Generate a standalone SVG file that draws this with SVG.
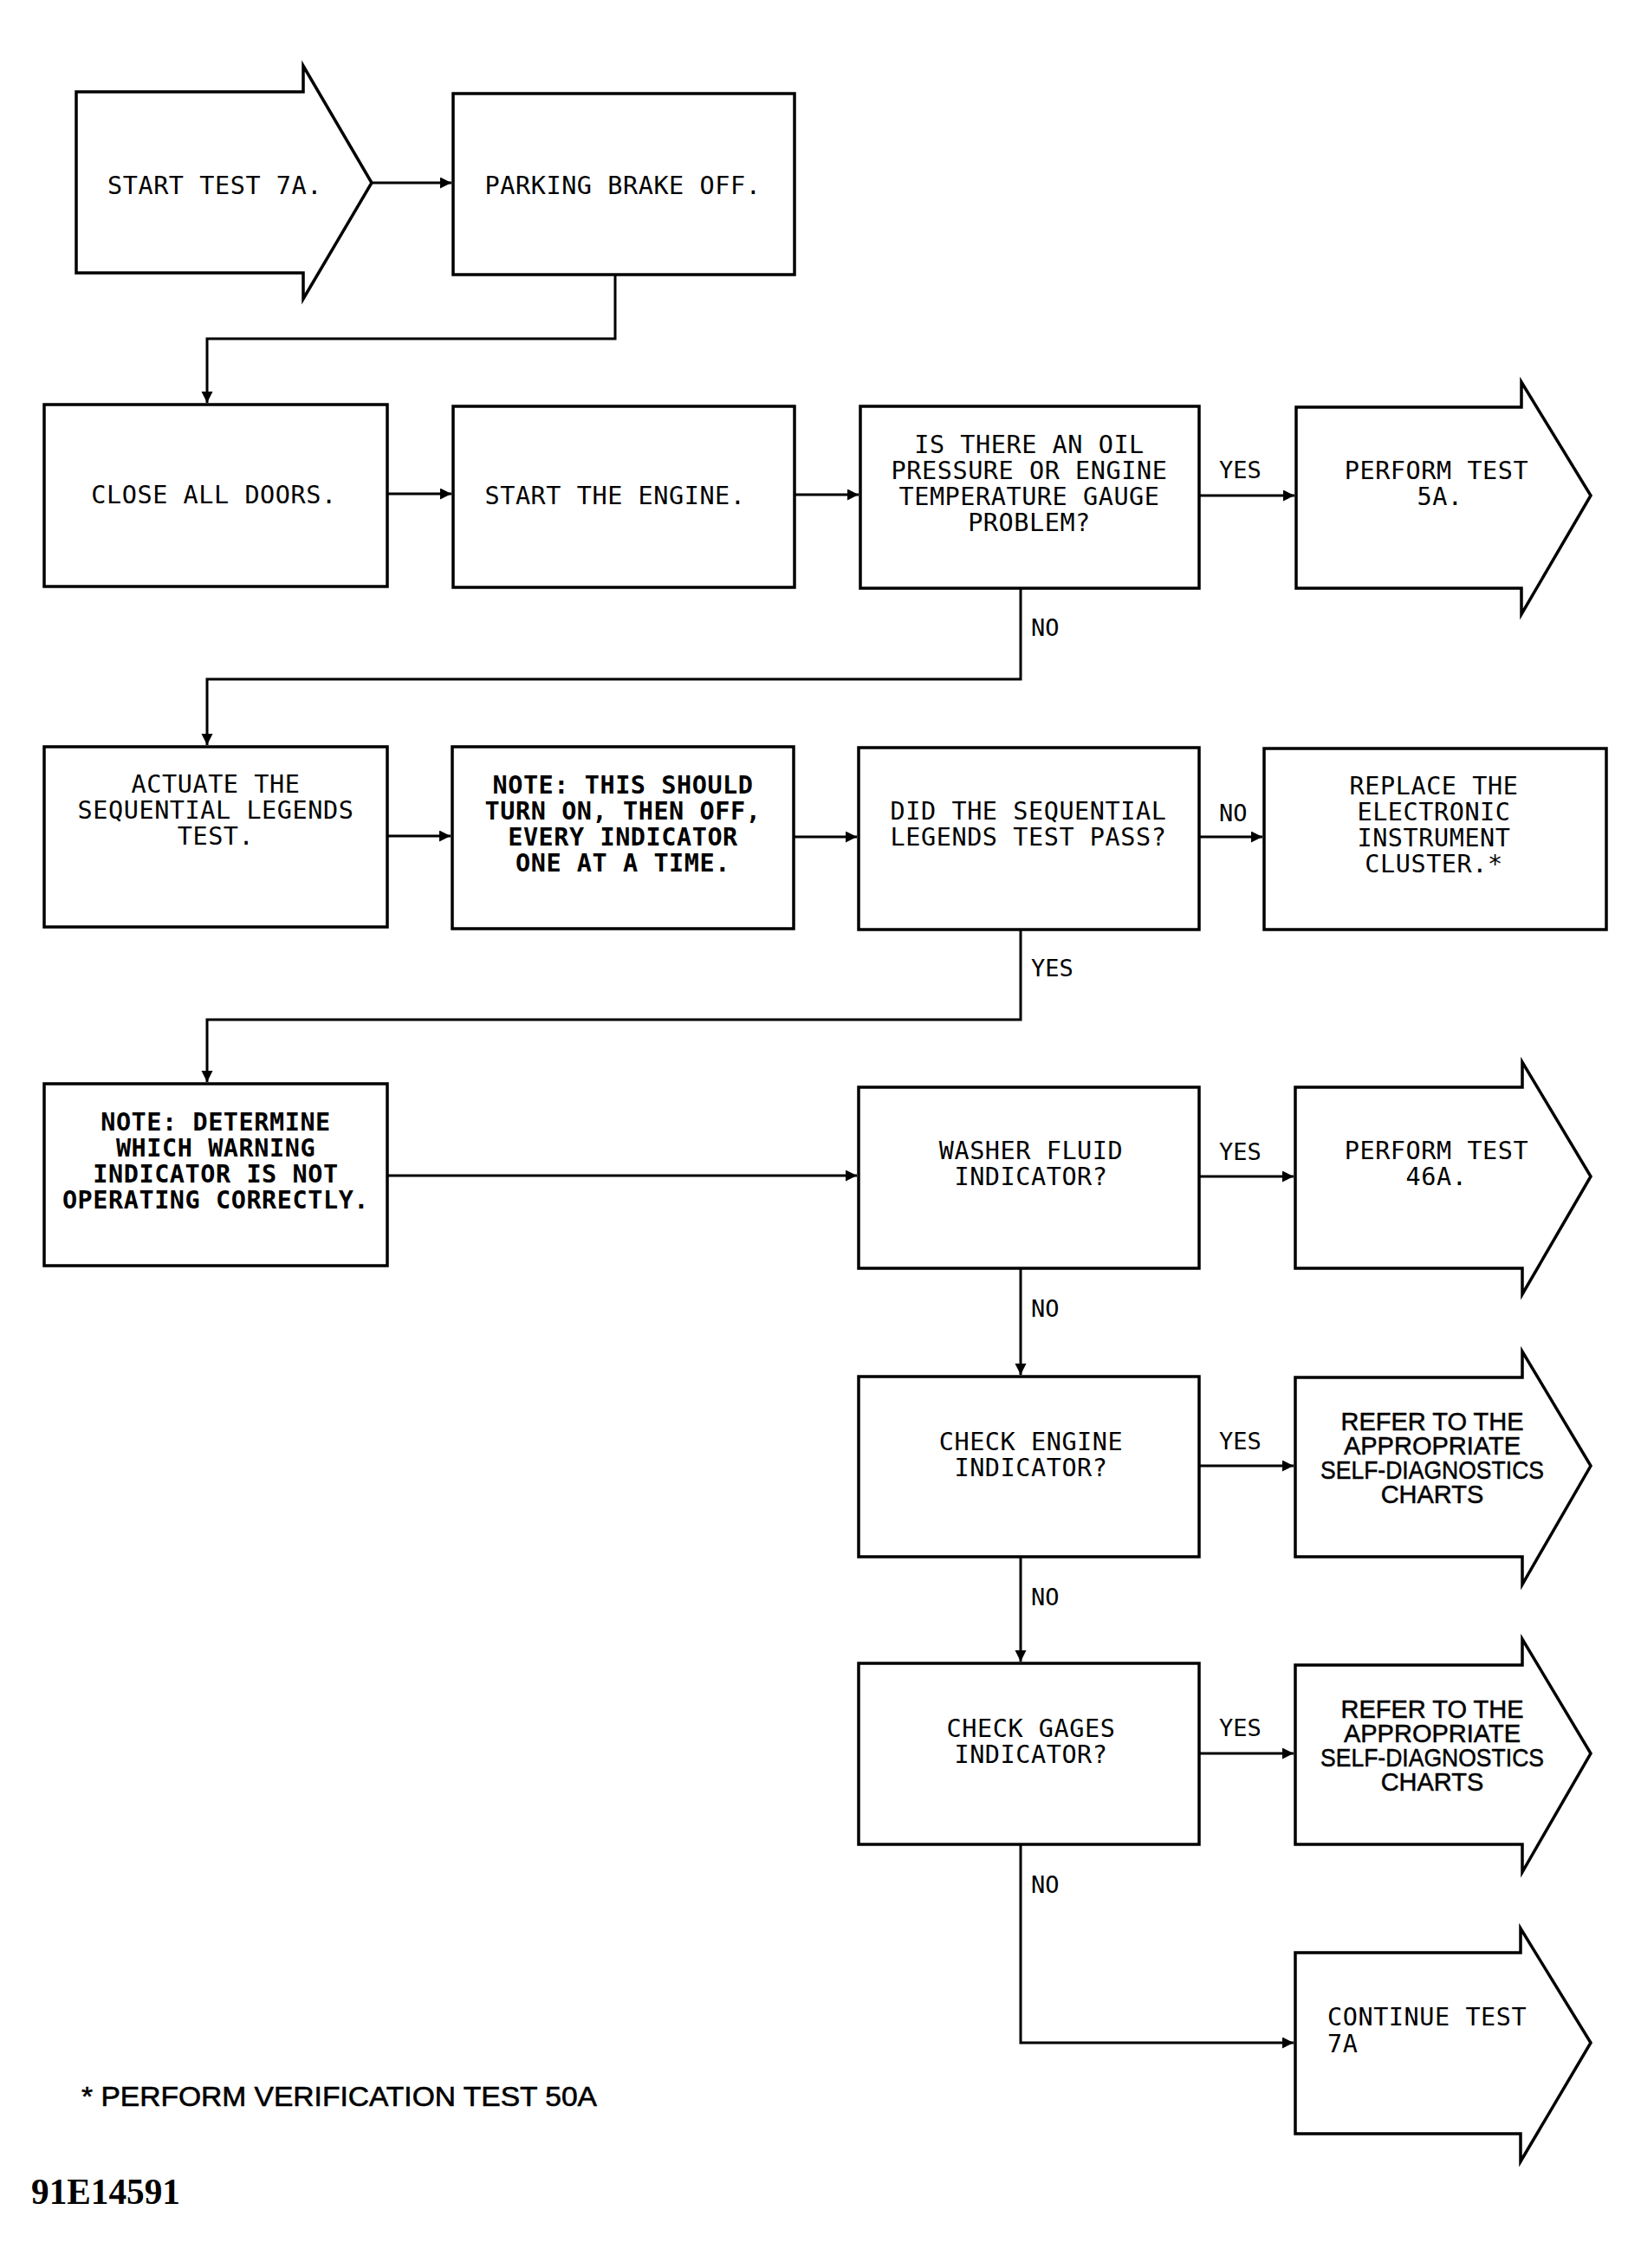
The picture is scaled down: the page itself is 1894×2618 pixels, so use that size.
<svg xmlns="http://www.w3.org/2000/svg" width="1894" height="2618" viewBox="0 0 1894 2618">
<style>
  .bx { fill: #fff; stroke: #000; stroke-width: 3.5; stroke-linejoin: miter; }
  .cn { fill: none; stroke: #000; stroke-width: 3; }
  .t { font-family: "DejaVu Sans Mono", "Liberation Mono", monospace; font-size: 28.5px; letter-spacing: 0.55px; fill: #000; }
  .m { text-anchor: middle; }
  .b { font-weight: bold; }
  .h { font-family: "Liberation Sans", Arial, sans-serif; font-size: 29px; fill: #000; stroke: #000; stroke-width: 0.5; text-anchor: middle; }
  .lbl { font-family: "DejaVu Sans Mono", "Liberation Mono", monospace; font-size: 27px; fill: #000; }
</style>
<defs>
  <marker id="ah" markerUnits="userSpaceOnUse" markerWidth="14" markerHeight="14" refX="13" refY="6.5" orient="auto">
    <path d="M0,0 L13,6.5 L0,13 Z" fill="#000"/>
  </marker>
</defs>
<rect x="0" y="0" width="1894" height="2618" fill="#fff"/>

<g id="connectors">
  <path class="cn" d="M429,211 H521" marker-end="url(#ah)"/>
  <path class="cn" d="M710,317 V391 H239 V465" marker-end="url(#ah)"/>
  <path class="cn" d="M447,570 H521" marker-end="url(#ah)"/>
  <path class="cn" d="M917,571 H991" marker-end="url(#ah)"/>
  <path class="cn" d="M1384,572 H1494" marker-end="url(#ah)"/>
  <path class="cn" d="M1178,679 V784 H239 V860" marker-end="url(#ah)"/>
  <path class="cn" d="M447,965 H520" marker-end="url(#ah)"/>
  <path class="cn" d="M916,966 H989" marker-end="url(#ah)"/>
  <path class="cn" d="M1384,966 H1457" marker-end="url(#ah)"/>
  <path class="cn" d="M1178,1073 V1177 H239 V1249" marker-end="url(#ah)"/>
  <path class="cn" d="M447,1357 H989" marker-end="url(#ah)"/>
  <path class="cn" d="M1384,1358 H1493" marker-end="url(#ah)"/>
  <path class="cn" d="M1178,1464 V1587" marker-end="url(#ah)"/>
  <path class="cn" d="M1384,1692 H1493" marker-end="url(#ah)"/>
  <path class="cn" d="M1178,1797 V1918" marker-end="url(#ah)"/>
  <path class="cn" d="M1384,2024 H1493" marker-end="url(#ah)"/>
  <path class="cn" d="M1178,2129 V2358 H1493" marker-end="url(#ah)"/>
  <text class="lbl" x="1407" y="552">YES</text>
  <text class="lbl" x="1190" y="734">NO</text>
  <text class="lbl" x="1407" y="948">NO</text>
  <text class="lbl" x="1190" y="1127">YES</text>
  <text class="lbl" x="1407" y="1339">YES</text>
  <text class="lbl" x="1190" y="1520">NO</text>
  <text class="lbl" x="1407" y="1673">YES</text>
  <text class="lbl" x="1190" y="1853">NO</text>
  <text class="lbl" x="1407" y="2004">YES</text>
  <text class="lbl" x="1190" y="2185">NO</text>
</g>

<g id="start">
  <path class="bx" d="M88,106 H350 V76 L429,211 L350,345 V315 H88 Z"/>
  <text class="t" x="124" y="224">START TEST 7A.</text>
</g>
<g id="parking">
  <rect class="bx" x="523" y="108" width="394" height="209"/>
  <text class="t m" x="719" y="224">PARKING BRAKE OFF.</text>
</g>
<g id="close-doors">
  <rect class="bx" x="51" y="467" width="396" height="210"/>
  <text class="t m" x="247" y="581">CLOSE ALL DOORS.</text>
</g>
<g id="start-engine">
  <rect class="bx" x="523" y="469" width="394" height="209"/>
  <text class="t m" x="710" y="582">START THE ENGINE.</text>
</g>
<g id="oil-question">
  <rect class="bx" x="993" y="469" width="391" height="210"/>
  <text class="t m"><tspan x="1188" y="523">IS THERE AN OIL</tspan><tspan x="1188" y="553">PRESSURE OR ENGINE</tspan><tspan x="1188" y="583">TEMPERATURE GAUGE</tspan><tspan x="1188" y="613">PROBLEM?</tspan></text>
</g>
<g id="perform-5a">
  <path class="bx" d="M1496,470 H1756 V441 L1836,572 L1756,709 V679 H1496 Z"/>
  <text class="t m"><tspan x="1658" y="553">PERFORM TEST</tspan><tspan x="1662" y="583">5A.</tspan></text>
</g>
<g id="actuate">
  <rect class="bx" x="51" y="862" width="396" height="208"/>
  <text class="t m"><tspan x="249" y="915">ACTUATE THE</tspan><tspan x="249" y="945">SEQUENTIAL LEGENDS</tspan><tspan x="249" y="975">TEST.</tspan></text>
</g>
<g id="note-indicator">
  <rect class="bx" x="522" y="862" width="394" height="210"/>
  <text class="t m b"><tspan x="719" y="916">NOTE: THIS SHOULD</tspan><tspan x="719" y="946">TURN ON, THEN OFF,</tspan><tspan x="719" y="976">EVERY INDICATOR</tspan><tspan x="719" y="1006">ONE AT A TIME.</tspan></text>
</g>
<g id="legends-question">
  <rect class="bx" x="991" y="863" width="393" height="210"/>
  <text class="t m"><tspan x="1187" y="946">DID THE SEQUENTIAL</tspan><tspan x="1187" y="976">LEGENDS TEST PASS?</tspan></text>
</g>
<g id="replace-cluster">
  <rect class="bx" x="1459" y="864" width="395" height="209"/>
  <text class="t m"><tspan x="1655" y="917">REPLACE THE</tspan><tspan x="1655" y="947">ELECTRONIC</tspan><tspan x="1655" y="977">INSTRUMENT</tspan><tspan x="1655" y="1007">CLUSTER.*</tspan></text>
</g>
<g id="note-determine">
  <rect class="bx" x="51" y="1251" width="396" height="210"/>
  <text class="t m b"><tspan x="249" y="1305">NOTE: DETERMINE</tspan><tspan x="249" y="1335">WHICH WARNING</tspan><tspan x="249" y="1365">INDICATOR IS NOT</tspan><tspan x="249" y="1395">OPERATING CORRECTLY.</tspan></text>
</g>
<g id="washer-question">
  <rect class="bx" x="991" y="1255" width="393" height="209"/>
  <text class="t m"><tspan x="1190" y="1338">WASHER FLUID</tspan><tspan x="1190" y="1368">INDICATOR?</tspan></text>
</g>
<g id="perform-46a">
  <path class="bx" d="M1495,1255 H1757 V1226 L1836,1358 L1757,1494 V1464 H1495 Z"/>
  <text class="t m"><tspan x="1658" y="1338">PERFORM TEST</tspan><tspan x="1658" y="1368">46A.</tspan></text>
</g>
<g id="engine-question">
  <rect class="bx" x="991" y="1589" width="393" height="208"/>
  <text class="t m"><tspan x="1190" y="1674">CHECK ENGINE</tspan><tspan x="1190" y="1704">INDICATOR?</tspan></text>
</g>
<g id="refer-1">
  <path class="bx" d="M1495,1590 H1757 V1560 L1836,1692 L1757,1829 V1797 H1495 Z"/>
  <text class="h"><tspan x="1653" y="1651">REFER TO THE</tspan><tspan x="1653" y="1679">APPROPRIATE</tspan><tspan x="1653" y="1707" textLength="258" lengthAdjust="spacingAndGlyphs">SELF-DIAGNOSTICS</tspan><tspan x="1653" y="1735">CHARTS</tspan></text>
</g>
<g id="gages-question">
  <rect class="bx" x="991" y="1920" width="393" height="209"/>
  <text class="t m"><tspan x="1190" y="2005">CHECK GAGES</tspan><tspan x="1190" y="2035">INDICATOR?</tspan></text>
</g>
<g id="refer-2">
  <path class="bx" d="M1495,1922 H1757 V1892 L1836,2024 L1757,2161 V2129 H1495 Z"/>
  <text class="h"><tspan x="1653" y="1983">REFER TO THE</tspan><tspan x="1653" y="2011">APPROPRIATE</tspan><tspan x="1653" y="2039" textLength="258" lengthAdjust="spacingAndGlyphs">SELF-DIAGNOSTICS</tspan><tspan x="1653" y="2067">CHARTS</tspan></text>
</g>
<g id="continue">
  <path class="bx" d="M1495,2254 H1755 V2226 L1836,2358 L1755,2495 V2463 H1495 Z"/>
  <text class="t"><tspan x="1532" y="2338">CONTINUE TEST</tspan><tspan x="1532" y="2369">7A</tspan></text>
</g>
<g id="footnote">
  <text x="94" y="2431" font-family="Liberation Sans, Arial, sans-serif" font-size="31" stroke="#000" stroke-width="0.6" textLength="595" lengthAdjust="spacingAndGlyphs">* PERFORM VERIFICATION TEST 50A</text>
</g>
<g id="figure-id">
  <text x="36" y="2544" font-family="Liberation Serif, Times New Roman, serif" font-weight="bold" font-size="43" textLength="172" lengthAdjust="spacingAndGlyphs">91E14591</text>
</g>
</svg>
